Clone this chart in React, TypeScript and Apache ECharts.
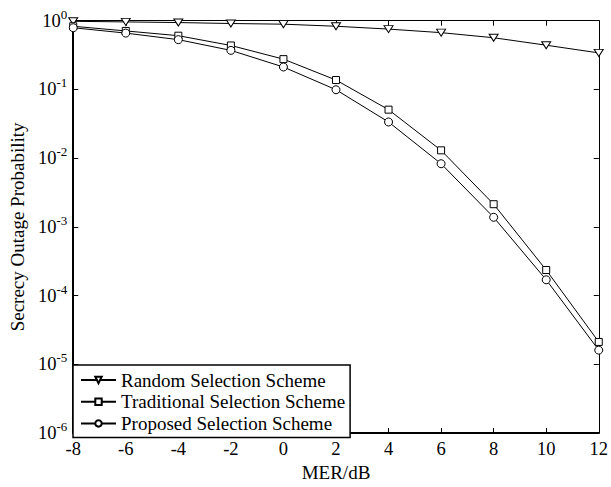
import React, { useEffect, useRef } from "react";
import * as echarts from "echarts";

const merDb = [-8, -6, -4, -2, 0, 2, 4, 6, 8, 10, 12];
const randomScheme = [0.98, 0.96, 0.94, 0.91, 0.89, 0.83, 0.755, 0.67, 0.565, 0.44, 0.34];
const traditionalScheme = [0.83, 0.71, 0.605, 0.436, 0.276, 0.137, 0.0508, 0.013, 0.00214, 0.000236, 0.0000212];
const proposedScheme = [0.79, 0.66, 0.53, 0.37, 0.212, 0.099, 0.0336, 0.0083, 0.00138, 0.00017, 0.0000161];
const seriesNames = ["Random Selection Scheme", "Traditional Selection Scheme", "Proposed Selection Scheme"];

const FONT = "Liberation Serif";

export default function App() {
  const ref = useRef<HTMLDivElement>(null);
  useEffect(() => {
    if (!ref.current) return;
    const chart = echarts.init(ref.current, undefined, { renderer: "svg" });
    const pairs = (ys: number[]) => merDb.map((x, i) => [x, ys[i]]);
    const lineStyle = { color: "#000", width: 1 };
    const itemStyle = { color: "#fff", borderColor: "#000", borderWidth: 1 };
    const common = {
      type: "line" as const,
      lineStyle,
      itemStyle,
      showAllSymbol: true,
      clip: false,
      z: 3,
    };
    chart.setOption({
      animation: false,
      backgroundColor: "#fff",
      textStyle: { fontFamily: FONT, color: "#000" },
      grid: { left: 66.7, right: 8.5, top: 20.7, bottom: 44.3, containLabel: false },
      legend: {
        orient: "vertical",
        left: 73,
        top: 365,
        padding: [5.5, 5, 4.5, 7],
        itemWidth: 35,
        itemHeight: 8,
        itemGap: 2.7,
        selectedMode: false,
        backgroundColor: "#fff",
        borderColor: "#000",
        borderWidth: 1.5,
        borderRadius: 0,
        textStyle: { fontFamily: FONT, fontSize: 19, color: "#000", lineHeight: 19 },
        data: seriesNames,
        z: 10,
      },
      xAxis: [
        {
          type: "value",
          min: -8,
          max: 12,
          interval: 2,
          position: "bottom",
          name: "MER/dB",
          nameLocation: "middle",
          nameGap: 27,
          nameTextStyle: { fontFamily: FONT, fontSize: 19, color: "#000" },
          axisLine: { show: true, onZero: false, lineStyle: { color: "#000", width: 2 } },
          axisTick: { show: true, inside: true, length: 5, lineStyle: { color: "#000", width: 1 } },
          axisLabel: { fontFamily: FONT, fontSize: 18.5, color: "#000", margin: 6 },
          splitLine: { show: false },
        },
        {
          type: "value",
          min: -8,
          max: 12,
          interval: 2,
          position: "top",
          axisLine: { show: true, onZero: false, lineStyle: { color: "#000", width: 1 } },
          axisTick: { show: true, inside: true, length: 5, lineStyle: { color: "#000", width: 1 } },
          axisLabel: { show: false },
          splitLine: { show: false },
        },
      ],
      yAxis: [
        {
          type: "log",
          logBase: 10,
          min: 1e-6,
          max: 1,
          interval: 1,
          position: "left",
          name: "Secrecy Outage Probability",
          nameLocation: "middle",
          nameGap: 42,
          nameTextStyle: { fontFamily: FONT, fontSize: 19, color: "#000" },
          axisLine: { show: true, onZero: false, lineStyle: { color: "#000", width: 2 } },
          axisTick: { show: true, inside: true, length: 5, lineStyle: { color: "#000", width: 1 } },
          axisLabel: {
            margin: 6,
            formatter: (v: number) => `{b|10}{s|${Math.round(Math.log10(v))}}`,
            rich: {
              b: { fontFamily: FONT, fontSize: 18.5, color: "#000", lineHeight: 26 },
              s: { fontFamily: FONT, fontSize: 13, color: "#000", lineHeight: 8, verticalAlign: "top" },
            },
          },
          splitLine: { show: false },
        },
        {
          type: "log",
          logBase: 10,
          min: 1e-6,
          max: 1,
          interval: 1,
          position: "right",
          axisLine: { show: true, onZero: false, lineStyle: { color: "#000", width: 1 } },
          axisTick: { show: true, inside: true, length: 5, lineStyle: { color: "#000", width: 1 } },
          axisLabel: { show: false },
          splitLine: { show: false },
        },
      ],
      series: [
        {
          ...common,
          name: seriesNames[0],
          data: pairs(randomScheme),
          symbol: "triangle",
          symbolRotate: 180,
          symbolSize: [9, 7],
        },
        {
          ...common,
          name: seriesNames[1],
          data: pairs(traditionalScheme),
          symbol: "rect",
          symbolSize: 7,
        },
        {
          ...common,
          name: seriesNames[2],
          data: pairs(proposedScheme),
          symbol: "circle",
          symbolSize: 8,
        },
      ],
    });
    return () => chart.dispose();
  }, []);
  return (
    <div
      ref={ref}
      style={{ position: "fixed", left: 0, top: 0, width: 611, height: 487, background: "#fff" }}
    />
  );
}
